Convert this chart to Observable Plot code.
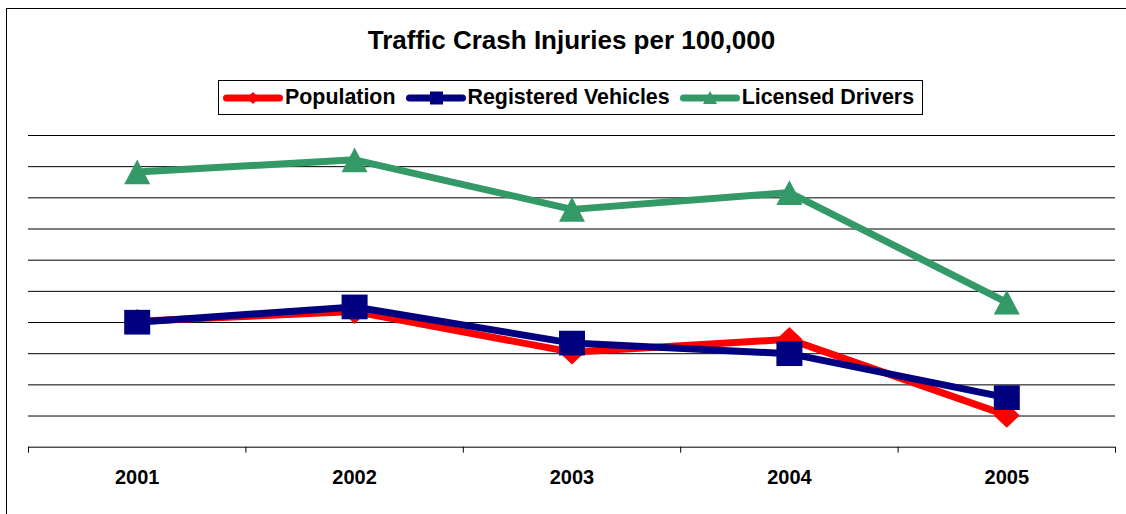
<!DOCTYPE html>
<html>
<head>
<meta charset="utf-8">
<script src="https://cdn.jsdelivr.net/npm/d3@7"></script>
<script src="https://cdn.jsdelivr.net/npm/@observablehq/plot@0.6"></script>
<style>
  html, body { margin: 0; padding: 0; background: #fff; overflow: hidden; }
  #wrap { position: relative; width: 1126px; height: 514px; overflow: hidden;
          font-family: "Liberation Sans", Arial, Helvetica, sans-serif; color: #000; }
  #frame { position: absolute; left: 6px; top: 8px; width: 1300px; height: 700px;
           border: 1.5px solid #000; box-sizing: border-box; pointer-events: none; }
  #chart { position: absolute; left: 0; top: 0; }
  #title { position: absolute; left: 0; width: 1143px; top: 25px; text-align: center;
           font-size: 26px; font-weight: bold; white-space: nowrap; }
  #legend { position: absolute; left: 218px; top: 80px; height: 35px; box-sizing: border-box;
            border: 1px solid #000; background: #fff; display: flex; align-items: center;
            padding-left: 4px; padding-right: 8px; font-size: 21.4px; font-weight: bold; white-space: nowrap; }
  #legend .item { display: flex; align-items: center; }
  #legend .item svg { display: block; margin-right: 2px; }
  #legend .item span { margin-right: 10px; line-height: 1; }
  #legend .item:last-child span { margin-right: 0; }
</style>
</head>
<body>
<div id="wrap">
  <div id="chart"></div>
  <div id="title"></div>
  <div id="legend"></div>
  <div id="frame"></div>
</div>
<script>
// ---- data (values in gridline units; the chart shows no y labels) ----
const titleText = "Traffic Crash Injuries per 100,000";
const years = [2001, 2002, 2003, 2004, 2005];
const population = [4.04, 4.35, 3.05, 3.46, 1.02];
const registeredVehicles = [4.01, 4.50, 3.34, 3.00, 1.59];
const licensedDrivers = [8.83, 9.22, 7.63, 8.17, 4.65];
const seriesNames = ["Population", "Registered Vehicles", "Licensed Drivers"];
const seriesColors = ["#FF0000", "#000080", "#339966"];
const gridValues = [0, 1, 2, 3, 4, 5, 6, 7, 8, 9, 10];

// ---- symbols (box-centered, like the spreadsheet markers) ----
const squareSym = { draw(ctx, size) { const w = Math.sqrt(size) / 2, h = w * 0.95; ctx.rect(-w, -h, 2 * w, 2 * h); } };
const triangleSym = { draw(ctx, size) { const w = Math.sqrt(size) / 2, h = w * 0.95;
  ctx.moveTo(0, -h); ctx.lineTo(w, h); ctx.lineTo(-w, h); ctx.closePath(); } };
const diamondSym = { draw(ctx, size) { const w = Math.sqrt(size) / 2, h = w * 0.95;
  ctx.moveTo(0, -h); ctx.lineTo(w, 0); ctx.lineTo(0, h); ctx.lineTo(-w, 0); ctx.closePath(); } };
const seriesSymbols = [diamondSym, squareSym, triangleSym];
const seriesValues = [population, registeredVehicles, licensedDrivers];

const tables = seriesNames.map((name, s) =>
  years.map((year, i) => ({ series: name, year, value: seriesValues[s][i] })));

const boundaries = years.map(y => y - 0.5).concat([years[years.length - 1] + 0.5]);

const seriesMarks = tables.flatMap((t, s) => [
  Plot.line(t, { x: "year", y: "value", stroke: "series", strokeWidth: 7, strokeLinejoin: "round" }),
  Plot.dot(t, { x: "year", y: "value", fill: "series", symbol: () => seriesSymbols[s], r: 14.67, stroke: "none" })
]);

const chart = Plot.plot({
  width: 1126,
  height: 514,
  marginTop: 135,
  marginBottom: 67.3,
  marginLeft: 28,
  marginRight: 11,
  x: { type: "linear", domain: [years[0] - 0.5, years[years.length - 1] + 0.5], axis: null, label: null },
  y: { domain: [0, 10], axis: null, label: null },
  color: { domain: seriesNames, range: seriesColors },
  symbol: { type: "identity" },
  style: { background: "transparent", color: "#000", fontFamily: "'Liberation Sans', Arial, sans-serif", overflow: "visible" },
  marks: [
    Plot.ruleY(gridValues, { stroke: "#000", strokeWidth: 1 }),
    Plot.axisX({ ticks: boundaries, tickSize: 6, tickFormat: () => "", stroke: "#000", label: null }),
    Plot.axisX({ ticks: years, tickSize: 0, tickPadding: 23, tickFormat: d => String(d), label: null,
                 fontSize: 20, fontWeight: "bold", fill: "#000" }),
    ...seriesMarks
  ]
});
document.getElementById("chart").appendChild(chart);

// ---- title ----
document.getElementById("title").textContent = titleText;

// ---- legend ----
const legendShapes = [
  '<path d="M30,4 L36,10 L30,16 L24,10 Z"/>',
  '<rect x="24" y="3.5" width="13" height="13"/>',
  '<path d="M30,3 L37,16 L23,16 Z"/>'
];
const legend = document.getElementById("legend");
seriesNames.forEach((name, i) => {
  const item = document.createElement("div");
  item.className = "item";
  item.innerHTML =
    `<svg width="60" height="20" viewBox="0 0 60 20">` +
    `<g fill="${seriesColors[i]}"><line x1="3.5" y1="10" x2="56.5" y2="10" stroke="${seriesColors[i]}" stroke-width="7" stroke-linecap="round"/>` +
    legendShapes[i] + `</g></svg>`;
  const span = document.createElement("span");
  span.textContent = name;
  item.appendChild(span);
  legend.appendChild(item);
});
</script>
</body>
</html>
